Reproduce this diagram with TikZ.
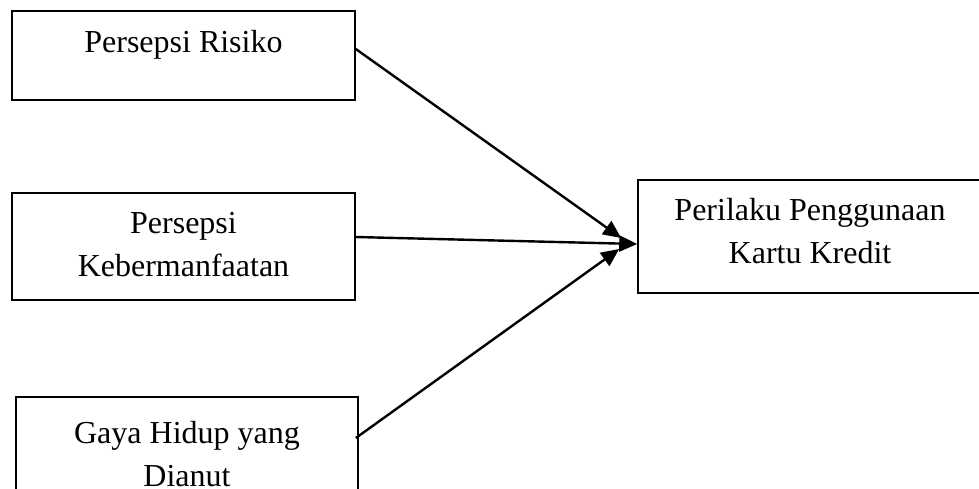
\documentclass[tikz,border=0pt]{standalone}
\usepackage{fontspec}
\setmainfont{Liberation Serif}
\usetikzlibrary{arrows.meta}

\begin{document}
\begin{tikzpicture}[x=0.5pt, y=-0.5pt,
    box/.style={draw, line width=0.8pt, inner sep=0pt, font=\fontsize{16}{21.5}\selectfont},
    link/.style={line width=1.2pt, -{Triangle[length=9pt, width=8pt]}}]
    \useasboundingbox (0,0) rectangle (979,488);
    % right box runs past the edge of the page
    \clip (0,0) rectangle (979,488);
    % variables
    \node[box, minimum width=171.5pt, minimum height=44.5pt] (risk) at (183.5,55.5)
      {\parbox[c][44.5pt][t]{168pt}{\centering\rule{0pt}{20.5pt}Persepsi Risiko}};
    \node[box, minimum width=171.5pt, minimum height=53.5pt] (benefit) at (183.5,246.5)
      {\parbox[c][53.5pt][t]{168pt}{\centering\rule{0pt}{20pt}Persepsi\\Kebermanfaatan}};
    \node[box, minimum width=171pt, minimum height=55pt] (life) at (187,452)
      {\parbox[c][55pt][t]{168pt}{\centering\rule{0pt}{23pt}Gaya Hidup yang\\Dianut}};
    \node[box, minimum width=176pt, minimum height=56.5pt] (usage) at (814,236.5)
      {\parbox[c][56.5pt][t]{168pt}{\centering\rule{0pt}{20pt}Perilaku Penggunaan\\Kartu Kredit}\hspace*{4pt}};
    % arrows
    \draw[link] ([yshift=3.25pt]risk.east) -- ([xshift=-8pt, yshift=-0.75pt]usage.west);
    \draw[link] ([yshift=4.75pt]benefit.east) -- ([yshift=-3.75pt]usage.west);
    \draw[link] ([xshift=-1.5pt, yshift=7pt]life.east) -- ([xshift=-9pt, yshift=-6.25pt]usage.west);
  \end{tikzpicture}
\end{document}
